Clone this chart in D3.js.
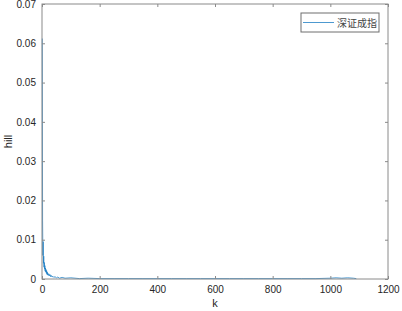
<!DOCTYPE html>
<html>
<head>
<meta charset="utf-8">
<script src="https://cdn.jsdelivr.net/npm/d3@7"></script>
<style>
  body { margin: 0; background: #fff; }
  text { font-family: "Liberation Sans", Arial, sans-serif; }
</style>
</head>
<body>
<div id="chart"></div>
<script>
// hill estimates (k, value)
const kValues = [1, 2, 3, 4, 5, 6, 7, 8, 9, 10, 11, 12, 13, 14, 15, 16, 17, 18, 19, 20,
  22, 24, 26, 28, 30, 32, 35, 38, 41, 45, 50, 55, 60, 70, 80, 100, 130, 160, 200, 250,
  300, 350, 400, 450, 500, 550, 600, 650, 700, 750, 800, 850, 900, 950, 1000, 1020,
  1040, 1060, 1080, 1090];
const hillValues = [0.0612, 0.0150, 0.0060, 0.0095, 0.0040, 0.0058, 0.0030, 0.0042, 0.0025, 0.0034,
  0.0020, 0.0028, 0.0018, 0.0024, 0.0015, 0.0021, 0.0012, 0.0018, 0.0011, 0.0015,
  0.0009, 0.0013, 0.0008, 0.0011, 0.0006, 0.0009, 0.0005, 0.0007, 0.0004, 0.0006,
  0.0003, 0.0005, 0.0002, 0.0004, 0.0002, 0.0003, 0.0001, 0.0002, 0.0001, 0.0001,
  0.0001, 0.0001, 0.0001, 0.0001, 0.0001, 0.0001, 0.0001, 0.0001, 0.0001, 0.0001,
  0.0001, 0.0001, 0.0001, 0.0001, 0.0002, 0.0003, 0.0002, 0.0003, 0.0002, 0.0001];
const xTicks = [0, 200, 400, 600, 800, 1000, 1200];
const yTicks = [0, 0.01, 0.02, 0.03, 0.04, 0.05, 0.06, 0.07];
const seriesName = "深证成指";

const width = 402, height = 311;
const margin = {top: 4, right: 14, bottom: 32, left: 42};
const innerW = width - margin.left - margin.right;
const innerH = height - margin.top - margin.bottom;

const svg = d3.select("#chart").append("svg")
  .attr("width", width)
  .attr("height", height);

const g = svg.append("g")
  .attr("transform", `translate(${margin.left},${margin.top})`);

const x = d3.scaleLinear().domain([0, 1200]).range([0, innerW]);
const y = d3.scaleLinear().domain([0, 0.07]).range([innerH, 0]);

const axisColor = "#8a8a8a";
const textColor = "#262626";
const lineColor = "#1f7fc4";

// data line
const points = kValues.map((k, i) => [k, hillValues[i]]);
g.append("path")
  .datum(points)
  .attr("fill", "none")
  .attr("stroke", lineColor)
  .attr("stroke-width", 0.8)
  .attr("d", d3.line().x(d => x(d[0])).y(d => y(d[1])));

// axes, ticks inside and mirrored like matlab's box
function styleAxis(sel) {
  sel.select(".domain").remove();
  sel.selectAll(".tick line").attr("stroke", axisColor);
  sel.selectAll(".tick text").attr("fill", textColor).style("font-size", "10px");
}

g.append("g")
  .attr("transform", `translate(0,${innerH})`)
  .call(d3.axisBottom(x).tickValues(xTicks).tickSizeInner(-3).tickSizeOuter(0).tickPadding(7)
    .tickFormat(d3.format("d")))
  .call(styleAxis);

g.append("g")
  .call(d3.axisTop(x).tickValues(xTicks).tickSizeInner(-3).tickSizeOuter(0).tickFormat(""))
  .call(styleAxis);

g.append("g")
  .call(d3.axisLeft(y).tickValues(yTicks).tickSizeInner(-3).tickSizeOuter(0).tickPadding(6)
    .tickFormat(d => d === 0 ? "0" : d3.format(".2f")(d)))
  .call(styleAxis);

g.append("g")
  .attr("transform", `translate(${innerW},0)`)
  .call(d3.axisRight(y).tickValues(yTicks).tickSizeInner(-3).tickSizeOuter(0).tickFormat(""))
  .call(styleAxis);

g.append("rect")
  .attr("width", innerW)
  .attr("height", innerH)
  .attr("fill", "none")
  .attr("stroke", axisColor)
  .attr("stroke-width", 1);

// axis labels
svg.append("text")
  .attr("x", margin.left + innerW / 2)
  .attr("y", height - 4)
  .attr("text-anchor", "middle")
  .attr("fill", textColor)
  .style("font-size", "11px")
  .text("k");

svg.append("text")
  .attr("transform", `translate(12,${margin.top + innerH / 2}) rotate(-90)`)
  .attr("text-anchor", "middle")
  .attr("fill", textColor)
  .style("font-size", "11px")
  .text("hill");

// legend
const legend = svg.append("g").attr("transform", "translate(301,13)");
legend.append("rect")
  .attr("width", 78).attr("height", 19)
  .attr("fill", "#fff").attr("stroke", "#6e6e6e").attr("stroke-width", 1);
legend.append("line")
  .attr("x1", 2).attr("x2", 33).attr("y1", 9.5).attr("y2", 9.5)
  .attr("stroke", lineColor).attr("stroke-width", 0.8);
legend.append("text")
  .attr("x", 36).attr("y", 13.5)
  .attr("fill", "#444")
  .style("font-family", "'Noto Sans CJK SC', sans-serif")
  .style("font-size", "10px")
  .text(seriesName);
</script>
</body>
</html>
